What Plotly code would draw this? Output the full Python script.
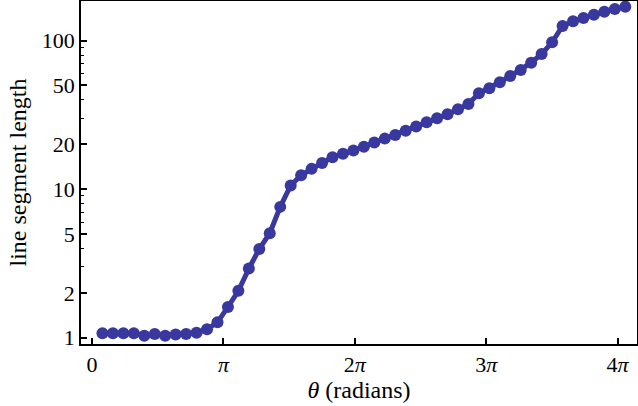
import plotly.graph_objects as go
import math

# theta values (radians), step 0.25
theta = [0.25 * i for i in range(1, 52)]

# line segment length values
length = [
    1.07, 1.07, 1.07, 1.07, 1.03, 1.06, 1.03, 1.05, 1.06, 1.08,
    1.14, 1.27, 1.61, 2.07, 2.92, 3.96, 5.05, 7.6, 10.6, 12.4,
    13.7, 15.0, 16.4, 17.3, 18.2, 19.3, 20.6, 21.9, 23.2, 24.7,
    26.4, 28.2, 30.0, 31.9, 34.5, 37.5, 44.2, 47.8, 52.5, 57.8,
    63.5, 71.1, 81.3, 97.5, 125.6, 135.1, 142.2, 149.6, 156.8, 163.4,
    169.4,
]

x_tickvals = [0, math.pi, 2 * math.pi, 3 * math.pi, 4 * math.pi]
x_ticktext = ["0", "<i>π</i>", "2<i>π</i>", "3<i>π</i>", "4<i>π</i>"]
y_tickvals = [1, 2, 5, 10, 20, 50, 100]
y_ticktext = ["1", "2", "5", "10", "20", "50", "100"]
y_minor = [3, 4, 6, 7, 8, 9, 30, 40, 60, 70, 80, 90]

color = "#39389e"

fig = go.Figure(
    go.Scatter(
        x=theta,
        y=length,
        mode="lines+markers",
        line=dict(color=color, width=5),
        marker=dict(color=color, size=12),
        showlegend=False,
    )
)

tick_font = dict(family="Liberation Serif, Times New Roman, serif", size=22, color="black")
title_font = dict(family="Liberation Serif, Times New Roman, serif", size=24, color="black")

fig.update_layout(
    width=638,
    height=406,
    margin=dict(l=81, r=1, t=1, b=62),
    paper_bgcolor="white",
    plot_bgcolor="white",
    font=tick_font,
)

fig.update_xaxes(
    range=[-0.263, 13.03],
    tickvals=x_tickvals,
    ticktext=x_ticktext,
    ticks="inside",
    ticklen=6,
    tickwidth=1.5,
    tickcolor="black",
    showline=True,
    linecolor="black",
    linewidth=1.5,
    mirror=True,
    showgrid=False,
    zeroline=False,
    title=dict(text="<i>θ</i> (radians)", standoff=2, font=title_font),
    tickfont=tick_font,
    automargin=False,
)

fig.update_yaxes(
    type="log",
    range=[-0.0424, 2.267],
    tickvals=y_tickvals,
    ticktext=y_ticktext,
    ticks="inside",
    ticklen=6,
    tickwidth=1.5,
    tickcolor="black",
    minor=dict(tickvals=y_minor, ticks="inside", ticklen=3, tickwidth=1, tickcolor="black", showgrid=False),
    showline=True,
    linecolor="black",
    linewidth=1.5,
    mirror=True,
    showgrid=False,
    zeroline=False,
    title=dict(text="line segment length", standoff=8, font=title_font),
    tickfont=tick_font,
    automargin=False,
)

fig.write_html(
    "out.html",
    config={"displayModeBar": False},
    post_script="document.body.style.margin='0';",
)
